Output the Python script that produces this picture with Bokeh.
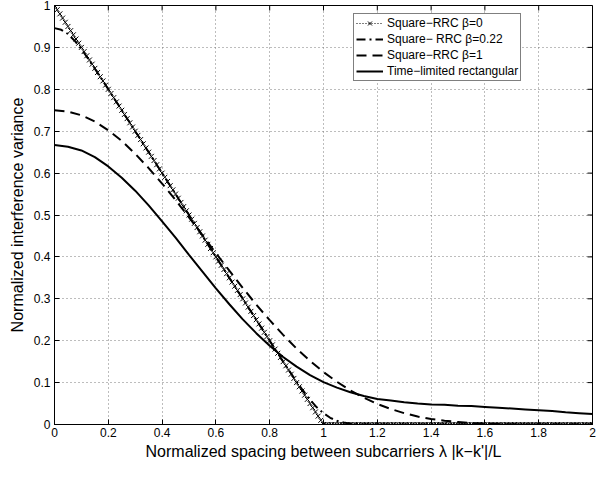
import numpy as np
from bokeh.plotting import figure
from bokeh.models import Legend, LegendItem, FixedTicker, Range1d
from bokeh.embed import file_html
from bokeh.resources import INLINE

# ---------------- data ----------------
# Square-RRC beta=0 (sampled every 0.01 along lambda)
lam_fine = np.linspace(0.0, 2.0, 201)
rrc_b0 = [
    1.00, 0.99, 0.98, 0.97, 0.96, 0.95, 0.94, 0.93, 0.92, 0.91,
    0.90, 0.89, 0.88, 0.87, 0.86, 0.85, 0.84, 0.83, 0.82, 0.81,
    0.80, 0.79, 0.78, 0.77, 0.76, 0.75, 0.74, 0.73, 0.72, 0.71,
    0.70, 0.69, 0.68, 0.67, 0.66, 0.65, 0.64, 0.63, 0.62, 0.61,
    0.60, 0.59, 0.58, 0.57, 0.56, 0.55, 0.54, 0.53, 0.52, 0.51,
    0.50, 0.49, 0.48, 0.47, 0.46, 0.45, 0.44, 0.43, 0.42, 0.41,
    0.40, 0.39, 0.38, 0.37, 0.36, 0.35, 0.34, 0.33, 0.32, 0.31,
    0.30, 0.29, 0.28, 0.27, 0.26, 0.25, 0.24, 0.23, 0.22, 0.21,
    0.20, 0.19, 0.18, 0.17, 0.16, 0.15, 0.14, 0.13, 0.12, 0.11,
    0.10, 0.09, 0.08, 0.07, 0.06, 0.05, 0.04, 0.03, 0.02, 0.01,
    0.00,
    0, 0, 0, 0, 0, 0, 0, 0, 0, 0,
    0, 0, 0, 0, 0, 0, 0, 0, 0, 0,
    0, 0, 0, 0, 0, 0, 0, 0, 0, 0,
    0, 0, 0, 0, 0, 0, 0, 0, 0, 0,
    0, 0, 0, 0, 0, 0, 0, 0, 0, 0,
    0, 0, 0, 0, 0, 0, 0, 0, 0, 0,
    0, 0, 0, 0, 0, 0, 0, 0, 0, 0,
    0, 0, 0, 0, 0, 0, 0, 0, 0, 0,
    0, 0, 0, 0, 0, 0, 0, 0, 0, 0,
    0, 0, 0, 0, 0, 0, 0, 0, 0, 0,
]

# Square-RRC beta=0.22
lam_b022 = [0.0, 0.025, 0.05, 0.075, 0.1, 0.125, 0.15, 0.175, 0.2, 0.3, 0.4, 0.5,
            0.6, 0.7, 0.8, 0.825, 0.85, 0.875, 0.9, 0.925, 0.95, 0.975, 1.0,
            1.025, 1.05, 1.075, 1.1, 1.125, 1.15, 1.175, 1.2, 1.4, 1.6, 1.8, 2.0]
rrc_b022 = [0.946, 0.942, 0.932, 0.916, 0.896, 0.873, 0.849, 0.825, 0.800, 0.700, 0.600, 0.500,
            0.400, 0.300, 0.200, 0.175, 0.150, 0.126, 0.102, 0.080, 0.059, 0.041, 0.027,
            0.016, 0.009, 0.0046, 0.0021, 0.0009, 0.0003, 0.0001, 0.0, 0.0, 0.0, 0.0, 0.0]

# common coarse grid for beta=1 and time-limited rectangular
lam = [0.0, 0.05, 0.1, 0.15, 0.2, 0.25, 0.3, 0.35, 0.4, 0.45, 0.5, 0.55, 0.6, 0.65,
       0.7, 0.75, 0.8, 0.85, 0.9, 0.95, 1.0, 1.05, 1.1, 1.15, 1.2, 1.25, 1.3, 1.35,
       1.4, 1.45, 1.5, 1.55, 1.6, 1.65, 1.7, 1.75, 1.8, 1.85, 1.9, 1.95, 2.0]
rrc_b1 = [0.750, 0.747, 0.738, 0.723, 0.702, 0.677, 0.646, 0.612, 0.575, 0.536, 0.494,
          0.452, 0.409, 0.367, 0.326, 0.286, 0.249, 0.214, 0.181, 0.152, 0.125,
          0.102, 0.081, 0.064, 0.049, 0.037, 0.027, 0.019, 0.013, 0.009, 0.006,
          0.003, 0.002, 0.001, 0.0005, 0.0002, 0.0001, 0.0, 0.0, 0.0, 0.0]
rect_tl = [0.667, 0.663, 0.654, 0.638, 0.616, 0.589, 0.558, 0.523, 0.485, 0.446, 0.405,
           0.365, 0.325, 0.287, 0.251, 0.218, 0.188, 0.161, 0.138, 0.118, 0.101,
           0.088, 0.077, 0.068, 0.061, 0.057, 0.053, 0.050, 0.048, 0.047, 0.045,
           0.044, 0.042, 0.040, 0.038, 0.036, 0.034, 0.032, 0.029, 0.027, 0.025]

x_ticks = [0, 0.2, 0.4, 0.6, 0.8, 1, 1.2, 1.4, 1.6, 1.8, 2]
x_labels = ["0", "0.2", "0.4", "0.6", "0.8", "1", "1.2", "1.4", "1.6", "1.8", "2"]
y_ticks = [0, 0.1, 0.2, 0.3, 0.4, 0.5, 0.6, 0.7, 0.8, 0.9, 1]
y_labels = ["0", "0.1", "0.2", "0.3", "0.4", "0.5", "0.6", "0.7", "0.8", "0.9", "1"]

x_title = "Normalized spacing between subcarriers \u03bb |k\u2212k'|/L"
y_title = "Normalized interference variance"
legend_labels = ["Square\u2212RRC \u03b2=0", "Square\u2212 RRC \u03b2=0.22",
                 "Square\u2212RRC \u03b2=1", "Time\u2212limited rectangular"]

FONT = "Liberation Sans"

# ---------------- figure ----------------
p = figure(width=600, height=462, output_backend="svg", toolbar_location=None,
           x_range=Range1d(0, 2), y_range=Range1d(0, 1),
           min_border_left=54, min_border_right=8, min_border_top=5, min_border_bottom=0)
p.background_fill_color = "white"
p.border_fill_color = "white"
p.outline_line_color = "black"
p.outline_line_width = 1

# axes
p.xaxis.ticker = FixedTicker(ticks=x_ticks)
p.xaxis.major_label_overrides = {t: l for t, l in zip(x_ticks, x_labels)}
p.yaxis.ticker = FixedTicker(ticks=y_ticks)
p.yaxis.major_label_overrides = {t: l for t, l in zip(y_ticks, y_labels)}
for ax in (p.xaxis[0], p.yaxis[0]):
    ax.major_tick_in = 5
    ax.major_tick_out = 0
    ax.minor_tick_line_color = None
    ax.axis_line_color = "black"
    ax.major_tick_line_color = "black"
    ax.major_label_text_font = FONT
    ax.major_label_text_font_size = "12px"
    ax.major_label_text_color = "black"
    ax.major_label_text_line_height = 1.0
    ax.axis_label_text_font = FONT
    ax.axis_label_text_font_size = "16px"
    ax.axis_label_text_font_style = "normal"
    ax.axis_label_text_color = "black"
    ax.axis_label_text_line_height = 1.0
p.xaxis.major_label_standoff = 3
p.xaxis.axis_label_standoff = 3
p.yaxis.major_label_standoff = 4
p.yaxis.axis_label_standoff = 5
p.xaxis.axis_label = x_title
p.yaxis.axis_label = y_title

# inward ticks on the top and right edges of the box
p.ray(x=x_ticks, y=[1] * len(x_ticks), length=5, length_units="screen",
      angle=-np.pi / 2, line_color="black", line_width=1)
p.ray(x=[2] * len(y_ticks), y=y_ticks, length=5, length_units="screen",
      angle=np.pi, line_color="black", line_width=1)

# grid
p.xgrid.ticker = FixedTicker(ticks=x_ticks)
p.ygrid.ticker = FixedTicker(ticks=y_ticks)
for g in (p.xgrid[0], p.ygrid[0]):
    g.grid_line_color = "#7a7a7a"
    g.grid_line_dash = "1 3"
    g.grid_line_width = 1

# ---------------- curves ----------------
r0l = p.line(lam_fine, rrc_b0, line_color="black", line_width=1, line_dash="1 2")
r0m = p.scatter(lam_fine, rrc_b0, marker="x", size=7, line_color="black", line_width=1)
r1 = p.line(lam_b022, rrc_b022, line_color="black", line_width=2, line_dash="9 4 2 4")
r2 = p.line(lam, rrc_b1, line_color="black", line_width=2, line_dash="10 6")
r3 = p.line(lam, rect_tl, line_color="black", line_width=2)

legend = Legend(items=[
    LegendItem(label=legend_labels[0], renderers=[r0l, r0m]),
    LegendItem(label=legend_labels[1], renderers=[r1]),
    LegendItem(label=legend_labels[2], renderers=[r2]),
    LegendItem(label=legend_labels[3], renderers=[r3]),
], location=(299, 343))
legend.border_line_color = "black"
legend.border_line_width = 1
legend.background_fill_color = "white"
legend.background_fill_alpha = 1
legend.label_text_font = FONT
legend.label_text_font_size = "12px"
legend.label_text_color = "black"
legend.label_height = 14
legend.glyph_height = 14
legend.glyph_width = 27
legend.label_standoff = 4
legend.spacing = 2
legend.padding = 2
legend.margin = 0
p.add_layout(legend, "center")

open("out.html", "w").write(file_html(p, INLINE))
